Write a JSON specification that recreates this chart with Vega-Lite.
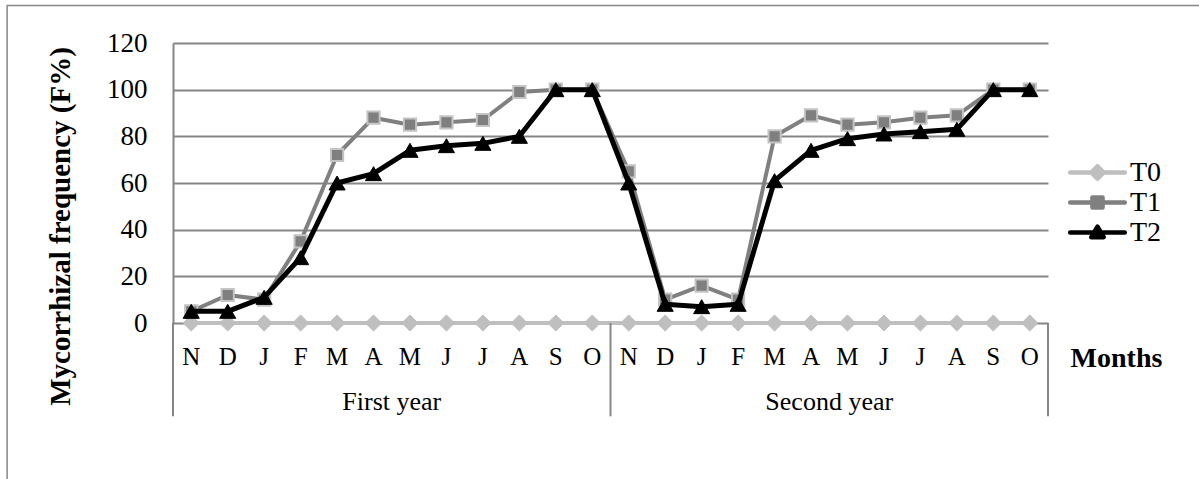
{
  "$schema": "https://vega.github.io/schema/vega-lite/v6.json",
  "width": 875,
  "height": 280,
  "autosize": {"type": "none"},
  "padding": {"left": 173, "top": 43, "right": 151, "bottom": 156},
  "background": "white",
  "config": {"view": {"stroke": null}, "font": "Liberation Serif"},
  "data": {
    "values": [
      {"t": 1, "year": "First year", "month": "N", "series": "T0", "F": 0},
      {"t": 2, "year": "First year", "month": "D", "series": "T0", "F": 0},
      {"t": 3, "year": "First year", "month": "J", "series": "T0", "F": 0},
      {"t": 4, "year": "First year", "month": "F", "series": "T0", "F": 0},
      {"t": 5, "year": "First year", "month": "M", "series": "T0", "F": 0},
      {"t": 6, "year": "First year", "month": "A", "series": "T0", "F": 0},
      {"t": 7, "year": "First year", "month": "M", "series": "T0", "F": 0},
      {"t": 8, "year": "First year", "month": "J", "series": "T0", "F": 0},
      {"t": 9, "year": "First year", "month": "J", "series": "T0", "F": 0},
      {"t": 10, "year": "First year", "month": "A", "series": "T0", "F": 0},
      {"t": 11, "year": "First year", "month": "S", "series": "T0", "F": 0},
      {"t": 12, "year": "First year", "month": "O", "series": "T0", "F": 0},
      {"t": 13, "year": "Second year", "month": "N", "series": "T0", "F": 0},
      {"t": 14, "year": "Second year", "month": "D", "series": "T0", "F": 0},
      {"t": 15, "year": "Second year", "month": "J", "series": "T0", "F": 0},
      {"t": 16, "year": "Second year", "month": "F", "series": "T0", "F": 0},
      {"t": 17, "year": "Second year", "month": "M", "series": "T0", "F": 0},
      {"t": 18, "year": "Second year", "month": "A", "series": "T0", "F": 0},
      {"t": 19, "year": "Second year", "month": "M", "series": "T0", "F": 0},
      {"t": 20, "year": "Second year", "month": "J", "series": "T0", "F": 0},
      {"t": 21, "year": "Second year", "month": "J", "series": "T0", "F": 0},
      {"t": 22, "year": "Second year", "month": "A", "series": "T0", "F": 0},
      {"t": 23, "year": "Second year", "month": "S", "series": "T0", "F": 0},
      {"t": 24, "year": "Second year", "month": "O", "series": "T0", "F": 0},
      {"t": 1, "year": "First year", "month": "N", "series": "T1", "F": 5},
      {"t": 2, "year": "First year", "month": "D", "series": "T1", "F": 12},
      {"t": 3, "year": "First year", "month": "J", "series": "T1", "F": 10},
      {"t": 4, "year": "First year", "month": "F", "series": "T1", "F": 35},
      {"t": 5, "year": "First year", "month": "M", "series": "T1", "F": 72},
      {"t": 6, "year": "First year", "month": "A", "series": "T1", "F": 88},
      {"t": 7, "year": "First year", "month": "M", "series": "T1", "F": 85},
      {"t": 8, "year": "First year", "month": "J", "series": "T1", "F": 86},
      {"t": 9, "year": "First year", "month": "J", "series": "T1", "F": 87},
      {"t": 10, "year": "First year", "month": "A", "series": "T1", "F": 99},
      {"t": 11, "year": "First year", "month": "S", "series": "T1", "F": 100},
      {"t": 12, "year": "First year", "month": "O", "series": "T1", "F": 100},
      {"t": 13, "year": "Second year", "month": "N", "series": "T1", "F": 65},
      {"t": 14, "year": "Second year", "month": "D", "series": "T1", "F": 10},
      {"t": 15, "year": "Second year", "month": "J", "series": "T1", "F": 16},
      {"t": 16, "year": "Second year", "month": "F", "series": "T1", "F": 10},
      {"t": 17, "year": "Second year", "month": "M", "series": "T1", "F": 80},
      {"t": 18, "year": "Second year", "month": "A", "series": "T1", "F": 89},
      {"t": 19, "year": "Second year", "month": "M", "series": "T1", "F": 85},
      {"t": 20, "year": "Second year", "month": "J", "series": "T1", "F": 86},
      {"t": 21, "year": "Second year", "month": "J", "series": "T1", "F": 88},
      {"t": 22, "year": "Second year", "month": "A", "series": "T1", "F": 89},
      {"t": 23, "year": "Second year", "month": "S", "series": "T1", "F": 100},
      {"t": 24, "year": "Second year", "month": "O", "series": "T1", "F": 100},
      {"t": 1, "year": "First year", "month": "N", "series": "T2", "F": 5},
      {"t": 2, "year": "First year", "month": "D", "series": "T2", "F": 5},
      {"t": 3, "year": "First year", "month": "J", "series": "T2", "F": 11},
      {"t": 4, "year": "First year", "month": "F", "series": "T2", "F": 28},
      {"t": 5, "year": "First year", "month": "M", "series": "T2", "F": 60},
      {"t": 6, "year": "First year", "month": "A", "series": "T2", "F": 64},
      {"t": 7, "year": "First year", "month": "M", "series": "T2", "F": 74},
      {"t": 8, "year": "First year", "month": "J", "series": "T2", "F": 76},
      {"t": 9, "year": "First year", "month": "J", "series": "T2", "F": 77},
      {"t": 10, "year": "First year", "month": "A", "series": "T2", "F": 80},
      {"t": 11, "year": "First year", "month": "S", "series": "T2", "F": 100},
      {"t": 12, "year": "First year", "month": "O", "series": "T2", "F": 100},
      {"t": 13, "year": "Second year", "month": "N", "series": "T2", "F": 60},
      {"t": 14, "year": "Second year", "month": "D", "series": "T2", "F": 8},
      {"t": 15, "year": "Second year", "month": "J", "series": "T2", "F": 7},
      {"t": 16, "year": "Second year", "month": "F", "series": "T2", "F": 8},
      {"t": 17, "year": "Second year", "month": "M", "series": "T2", "F": 61},
      {"t": 18, "year": "Second year", "month": "A", "series": "T2", "F": 74},
      {"t": 19, "year": "Second year", "month": "M", "series": "T2", "F": 79},
      {"t": 20, "year": "Second year", "month": "J", "series": "T2", "F": 81},
      {"t": 21, "year": "Second year", "month": "J", "series": "T2", "F": 82},
      {"t": 22, "year": "Second year", "month": "A", "series": "T2", "F": 83},
      {"t": 23, "year": "Second year", "month": "S", "series": "T2", "F": 100},
      {"t": 24, "year": "Second year", "month": "O", "series": "T2", "F": 100}
    ]
  },
  "layer": [
    {
      "transform": [{"filter": "datum.series === 'T0'"}],
      "mark": {"type": "line", "strokeWidth": 4, "strokeJoin": "round"},
      "encoding": {
        "x": {
          "field": "t", "type": "quantitative",
          "scale": {"domain": [0.5, 24.5], "nice": false, "zero": false},
          "axis": {
            "labels": false, "ticks": false, "domain": false, "grid": false,
            "title": "Months", "titleFont": "Liberation Serif", "titleFontSize": 28,
            "titleFontWeight": "bold", "titleColor": "#000000",
            "titleX": 943, "titleY": 35, "titleAlign": "center", "titleBaseline": "middle"
          }
        },
        "y": {
          "field": "F", "type": "quantitative",
          "scale": {"domain": [0, 120], "nice": false},
          "axis": {
            "values": [0, 20, 40, 60, 80, 100, 120],
            "ticks": false, "tickSize": 0,
            "domainColor": "#868686", "domainWidth": 2,
            "gridColor": "#868686", "gridWidth": 2,
            "labelFont": "Liberation Serif", "labelFontSize": 27, "labelColor": "#000000",
            "labelPadding": 26,
            "title": "Mycorrhizal frequency (F%)", "titleFont": "Liberation Serif",
            "titleFontSize": 29, "titleFontWeight": "bold", "titleColor": "#000000",
            "titleAngle": 270, "titleX": -104, "titleY": 183,
            "titleAlign": "center", "titleBaseline": "alphabetic"
          }
        },
        "color": {
          "field": "series", "type": "nominal",
          "scale": {"domain": ["T0", "T1", "T2"], "range": ["#bfbfbf", "#808080", "#000000"]},
          "legend": {
            "orient": "none", "legendX": 909, "legendY": 114, "title": null,
            "labelFont": "Liberation Serif", "labelFontSize": 28, "labelColor": "#000000",
            "labelOffset": 17, "symbolSize": 676, "symbolStrokeWidth": 4.5, "rowPadding": 0,
            "encode": {
              "symbols": {
                "update": {
                  "shape": {"signal": "datum.value === 'T0' ? 'M-2.1,0L2.1,0M0,-0.48L0.48,0L0,0.48L-0.48,0Z' : datum.value === 'T1' ? 'M-2.1,0L2.1,0M-0.39,-0.39L0.39,-0.39L0.39,0.39L-0.39,0.39Z' : 'M-2.1,0L2.1,0M0,-0.45L0.48,0.36L-0.48,0.36Z'"},
                  "fill": {"scale": "color", "field": "value"},
                  "stroke": {"scale": "color", "field": "value"},
                  "strokeCap": {"value": "round"},
                  "strokeJoin": {"value": "round"},
                  "opacity": {"value": 1}
                }
              }
            }
          }
        }
      }
    },
    {
      "transform": [{"filter": "datum.series === 'T0'"}],
      "mark": {"type": "point", "shape": "diamond", "filled": true, "fill": "#bfbfbf", "stroke": "#bfbfbf", "strokeWidth": 1, "size": 260, "opacity": 1},
      "encoding": {
        "x": {"field": "t", "type": "quantitative"},
        "y": {"field": "F", "type": "quantitative"}
      }
    },
    {
      "transform": [{"filter": "datum.series === 'T1'"}],
      "mark": {"type": "line", "strokeWidth": 4, "strokeJoin": "round"},
      "encoding": {
        "x": {"field": "t", "type": "quantitative"},
        "y": {"field": "F", "type": "quantitative"},
        "color": {"field": "series", "type": "nominal", "scale": {"domain": ["T0", "T1", "T2"], "range": ["#bfbfbf", "#808080", "#000000"]}}
      }
    },
    {
      "transform": [{"filter": "datum.series === 'T1'"}],
      "mark": {"type": "point", "shape": "square", "filled": true, "fill": "#7f7f7f", "stroke": "#c4c4c4", "strokeWidth": 2, "size": 150, "opacity": 1},
      "encoding": {
        "x": {"field": "t", "type": "quantitative"},
        "y": {"field": "F", "type": "quantitative"}
      }
    },
    {
      "transform": [{"filter": "datum.series === 'T2'"}],
      "mark": {"type": "line", "strokeWidth": 5, "strokeJoin": "round"},
      "encoding": {
        "x": {"field": "t", "type": "quantitative"},
        "y": {"field": "F", "type": "quantitative"},
        "color": {"field": "series", "type": "nominal", "scale": {"domain": ["T0", "T1", "T2"], "range": ["#bfbfbf", "#808080", "#000000"]}}
      }
    },
    {
      "transform": [{"filter": "datum.series === 'T2'"}],
      "mark": {"type": "point", "shape": "triangle-up", "filled": true, "fill": "#000000", "stroke": "#000000", "strokeWidth": 1, "size": 260, "opacity": 1},
      "encoding": {
        "x": {"field": "t", "type": "quantitative"},
        "y": {"field": "F", "type": "quantitative"}
      }
    },
    {
      "transform": [{"filter": "datum.series === 'T0'"}],
      "mark": {"type": "text", "fontSize": 25, "color": "#000000", "align": "center", "baseline": "middle"},
      "encoding": {
        "x": {"field": "t", "type": "quantitative"},
        "y": {"datum": -14.6},
        "text": {"field": "month"}
      }
    },
    {
      "transform": [{"filter": "datum.series === 'T0'"}],
      "mark": {"type": "text", "fontSize": 26, "color": "#000000", "align": "center", "baseline": "middle"},
      "encoding": {
        "x": {"aggregate": "mean", "field": "t", "type": "quantitative"},
        "y": {"datum": -34},
        "text": {"field": "year"}
      }
    },
    {
      "data": {"values": [{}]},
      "mark": {"type": "rule", "color": "#868686", "strokeWidth": 2},
      "encoding": {"x": {"datum": 0.5}, "y": {"datum": 0}, "y2": {"datum": -40}}
    },
    {
      "data": {"values": [{}]},
      "mark": {"type": "rule", "color": "#868686", "strokeWidth": 2},
      "encoding": {"x": {"datum": 12.5}, "y": {"datum": 0}, "y2": {"datum": -40}}
    },
    {
      "data": {"values": [{}]},
      "mark": {"type": "rule", "color": "#868686", "strokeWidth": 2},
      "encoding": {"x": {"datum": 24.5}, "y": {"datum": 0}, "y2": {"datum": -40}}
    },
    {
      "data": {"values": [{}]},
      "mark": {"type": "rect", "filled": false, "stroke": "#868686", "strokeWidth": 1.5},
      "encoding": {"x": {"datum": -4.05}, "x2": {"datum": 29}, "y": {"datum": 136.07}, "y2": {"datum": -70}}
    }
  ]
}
